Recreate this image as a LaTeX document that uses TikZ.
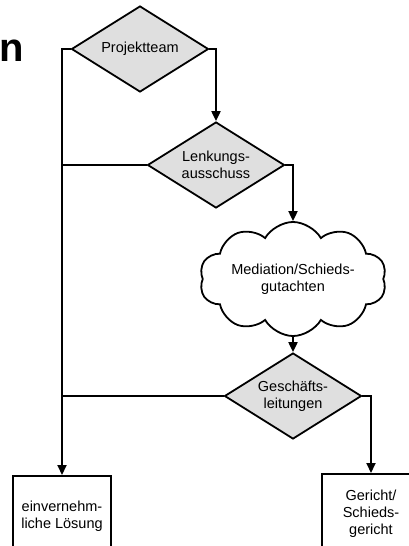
\documentclass[tikz,border=0pt]{standalone}
\usepackage{fontspec}
\setmainfont{Liberation Sans}
\usetikzlibrary{shapes.geometric,shapes.symbols,arrows.meta}
\definecolor{decisionfill}{gray}{0.875}
\begin{document}
\begin{tikzpicture}[x=1pt,y=1pt,
  every node/.style={font=\fontsize{14.5pt}{16.8pt}\selectfont},
  decision/.style={diamond, draw=black, line width=1.8pt, fill=decisionfill,
    minimum width=137pt, minimum height=86pt, aspect=1.6, inner sep=0pt, align=center},
  cloudbox/.style={cloud, draw=black, line width=1.8pt, fill=white,
    cloud puffs=10, cloud puff arc=120, aspect=2, minimum width=187pt, minimum height=92pt,
    inner sep=0pt, align=center},
  outcome/.style={rectangle, draw=black, line width=1.8pt, fill=white,
    minimum width=98pt, minimum height=80pt, inner sep=0pt, align=center, anchor=north},
  flow/.style={line width=2pt, -{Triangle[length=10pt,width=9pt]}},
  branchline/.style={line width=2pt}]
\useasboundingbox (0,0) rectangle (409,-546);

% heading (last letter visible at the edge)
\node[font=\fontsize{40pt}{44pt}\selectfont\bfseries, anchor=base west, inner sep=0pt]
  (heading) at (-1,-61) {n};

% escalation levels
\node[decision] (pt) at (140,-49) {Projektteam};
\node[decision] (lk) at (216,-165) {Lenkungs-\\ausschuss};
\node[cloudbox] (med) at (293,-279) {Mediation/Schieds-\\gutachten};
\node[decision] (gl) at (293,-396) {Geschäfts-\\leitungen};

% outcomes
\node[outcome] (lbox) at (62,-475) {einvernehm-\\liche Lösung};
\node[outcome] (rbox) at (371,-473) {Gericht/\\Schieds-\\gericht};

% escalation path
\draw[flow] (pt.east) -| (lk.north);
\draw[flow] (lk.east) -| (med.north);
\draw[flow] (med.south) -- (gl.north);
\draw[flow] (gl.east) -| (rbox.north);

% agreement path
\draw[flow] (pt.west) -| (lbox.north);
\draw[branchline] (lk.west) -- (lk.west -| lbox.north);
\draw[branchline] (gl.west) -- (gl.west -| lbox.north);
\end{tikzpicture}
\end{document}
